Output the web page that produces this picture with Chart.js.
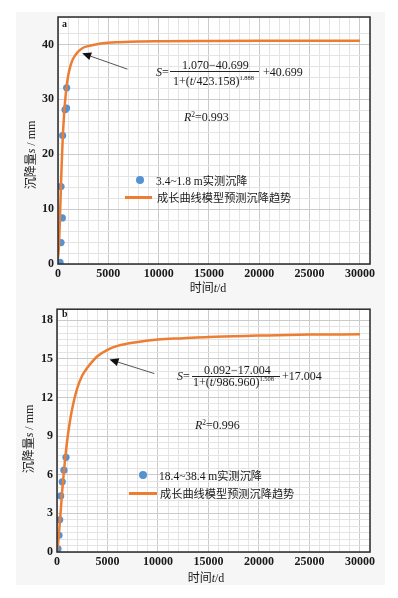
<!DOCTYPE html>
<html><head><meta charset="utf-8">
<script src="https://cdn.jsdelivr.net/npm/chart.js@4"></script>
<style>
html,body{margin:0;padding:0;background:#fff;}
#wrap{position:relative;width:398px;height:598px;overflow:hidden;}
#bg{position:absolute;left:16px;top:12px;width:369px;height:573px;background:#f6f6f6;}
canvas{position:absolute;left:0;}
.t{position:absolute;white-space:nowrap;line-height:1;transform:translateY(-50%);color:#1a1a1a;}
.serif{font-family:'Liberation Serif','DejaVu Serif',serif;font-size:12px;}
.cjk{font-family:'Noto Sans CJK SC',sans-serif;}
.sup{font-size:6.5px;vertical-align:5px;}
.sup2{font-size:7.5px;vertical-align:4px;}
.fl{position:absolute;height:1px;background:#222;}
.dot{position:absolute;width:8px;height:8px;border-radius:50%;background:#5592d2;transform:translate(-50%,-50%);}
.leg{position:absolute;height:2.5px;background:#ed7d31;}
.ytitle{position:absolute;white-space:nowrap;line-height:1;transform:translate(-50%,-50%) rotate(-90deg);font-size:12px;color:#1a1a1a;}
.xtitle{position:absolute;white-space:nowrap;line-height:1;transform:translate(-50%,-50%);font-size:12px;color:#1a1a1a;}
</style></head>
<body>
<div id="wrap">
<div id="bg"></div>
<canvas id="c1" width="398" height="298" style="top:0"></canvas>
<canvas id="c2" width="398" height="300" style="top:298px"></canvas>

<!-- panel a texts -->
<div class="t serif" style="left:62px;top:24px;font-size:10px;font-weight:bold;">a</div>
<div class="t serif" style="left:156px;top:71.5px;"><i>S</i>=</div>
<div class="t serif" style="left:182px;top:65px;">1.070−40.699</div>
<div class="fl" style="left:170px;top:71px;width:89px;"></div>
<div class="t serif" style="left:173px;top:80.5px;">1+(<i>t</i>/423.158)<span class="sup">1.888</span></div>
<div class="t serif" style="left:263px;top:71.5px;">+40.699</div>
<div class="t serif" style="left:184px;top:117px;"><i>R</i><span class="sup2">2</span>=0.993</div>
<div class="dot" style="left:139.5px;top:179.5px;"></div>
<div class="t" style="left:156px;top:180px;"><span class="serif" style="font-size:11.5px">3.4~1.8 m</span><span class="cjk" style="font-size:11.2px">实测沉降</span></div>
<div class="leg" style="left:125px;top:196px;width:27px;"></div>
<div class="t cjk" style="left:157px;top:197.5px;font-size:11.2px;">成长曲线模型预测沉降趋势</div>
<div class="xtitle" style="left:208px;top:287px;"><span class="cjk">时间</span><span class="serif"><i>t</i>/d</span></div>
<div class="ytitle" style="left:30px;top:154.5px;"><span class="cjk">沉降量</span><span class="serif"><i>s</i> / mm</span></div>

<!-- panel b texts -->
<div class="t serif" style="left:62px;top:314px;font-size:10px;font-weight:bold;">b</div>
<div class="t serif" style="left:177px;top:376px;"><i>S</i>=</div>
<div class="t serif" style="left:204px;top:369.5px;">0.092−17.004</div>
<div class="fl" style="left:192px;top:375.5px;width:88px;"></div>
<div class="t serif" style="left:193px;top:382px;">1+(<i>t</i>/986.960)<span class="sup">1.508</span></div>
<div class="t serif" style="left:282px;top:376px;">+17.004</div>
<div class="t serif" style="left:195px;top:425px;"><i>R</i><span class="sup2">2</span>=0.996</div>
<div class="dot" style="left:143px;top:474.5px;"></div>
<div class="t" style="left:159px;top:474.5px;"><span class="serif" style="font-size:11.5px">18.4~38.4 m</span><span class="cjk" style="font-size:11.2px">实测沉降</span></div>
<div class="leg" style="left:129px;top:492px;width:28px;"></div>
<div class="t cjk" style="left:160px;top:493.5px;font-size:11.2px;">成长曲线模型预测沉降趋势</div>
<div class="xtitle" style="left:206px;top:577px;"><span class="cjk">时间</span><span class="serif"><i>t</i>/d</span></div>
<div class="ytitle" style="left:28px;top:438.5px;"><span class="cjk">沉降量</span><span class="serif"><i>s</i> / mm</span></div>
</div>

<script>
// ---------- data ----------
const xTickLabels = [0, 5000, 10000, 15000, 20000, 25000, 30000];
const yTickLabelsA = [0, 10, 20, 30, 40];
const yTickLabelsB = [0, 3, 6, 9, 12, 15, 18];

// panel a: measured settlement (3.4~1.8 m)
const obsTimeA = [200, 300, 430, 300, 460, 700, 850, 860];
const obsSetA  = [0.3, 3.9, 8.4, 14.1, 23.4, 28.1, 28.4, 32.1];
// panel a: growth-curve model trend
const fitTimeA = [0, 100, 200, 300, 400, 500, 600, 800, 1000, 1250, 1500, 2000, 2500, 3000, 4000, 5000, 6000, 8000, 10000, 15000, 20000, 25000, 30000];
const fitSetA  = [1.07, 3.5, 8.8, 14.7, 19.8, 24.0, 27.2, 31.5, 34.2, 36.2, 37.4, 38.7, 39.4, 39.7, 40.1, 40.3, 40.4, 40.55, 40.6, 40.65, 40.67, 40.68, 40.69];

// panel b: measured settlement (18.4~38.4 m)
const obsTimeB = [100, 200, 265, 365, 520, 690, 890];
const obsSetB  = [0.25, 1.3, 2.5, 4.35, 5.45, 6.35, 7.35];
// panel b: growth-curve model trend
const fitTimeB = [0, 100, 200, 300, 400, 500, 600, 800, 1000, 1250, 1500, 2000, 2500, 3000, 4000, 5000, 6000, 8000, 10000, 12500, 15000, 20000, 25000, 30000];
const fitSetB  = [0.09, 0.6, 1.5, 2.5, 3.5, 4.6, 5.5, 7.2, 8.6, 10.0, 11.1, 12.7, 13.7, 14.3, 15.2, 15.7, 16.0, 16.3, 16.5, 16.6, 16.7, 16.8, 16.88, 16.9];

// ---------- helpers ----------
const MAJOR = '#cbcbcb', MINOR = '#e4e4e4';
const BLUE = '#5592d2', ORANGE = '#ed7d31';
const tickFont = {family: "'Liberation Serif','DejaVu Serif',serif", size: 12, weight: 'bold'};
const near = (v, arr) => arr.some(a => Math.abs(a - v) < 1e-6);

const framePlugin = {
  id: 'frame',
  beforeDraw(chart) {
    const {ctx, chartArea: a} = chart;
    ctx.save();
    ctx.fillStyle = '#ffffff';
    ctx.fillRect(a.left, a.top, a.right - a.left, a.bottom - a.top);
    ctx.restore();
  },
  afterDraw(chart, args, opts) {
    const {ctx, chartArea: a, scales} = chart;
    ctx.save();
    if (opts.from && opts.to) {
      const x1 = scales.x.getPixelForValue(opts.from[0]), y1 = scales.y.getPixelForValue(opts.from[1]);
      const x2 = scales.x.getPixelForValue(opts.to[0]), y2 = scales.y.getPixelForValue(opts.to[1]);
      const ang = Math.atan2(y2 - y1, x2 - x1), L = 9, W = 4;
      const c = Math.cos(ang), s = Math.sin(ang);
      const bx = x2 - L * c, by = y2 - L * s;
      ctx.strokeStyle = '#555';
      ctx.lineWidth = 1;
      ctx.beginPath(); ctx.moveTo(x1, y1); ctx.lineTo(bx, by); ctx.stroke();
      ctx.fillStyle = '#111';
      ctx.beginPath();
      ctx.moveTo(x2, y2);
      ctx.lineTo(bx + W * s, by - W * c);
      ctx.lineTo(bx - W * s, by + W * c);
      ctx.closePath(); ctx.fill();
    }
    ctx.strokeStyle = '#2a2a2a';
    ctx.lineWidth = 1.5;
    ctx.strokeRect(a.left, a.top, a.right - a.left, a.bottom - a.top);
    ctx.restore();
  }
};

function makeChart(id, cfg) {
  const fitData = cfg.fitT.map((t, i) => ({x: t, y: cfg.fitS[i]}));
  const obsData = cfg.obsT.map((t, i) => ({x: t, y: cfg.obsS[i]}));
  return new Chart(document.getElementById(id), {
    type: 'scatter',
    data: {
      datasets: [
        {label: 'fit', data: fitData, showLine: true, borderColor: ORANGE, borderWidth: 2.5,
         pointRadius: 0, cubicInterpolationMode: 'monotone', order: 0},
        {label: 'obs', data: obsData, backgroundColor: BLUE, borderColor: BLUE, pointRadius: 3.6,
         borderWidth: 0, order: 1}
      ]
    },
    options: {
      responsive: false, animation: false, devicePixelRatio: 1,
      layout: {padding: {left: 0, right: 28, top: cfg.padTop, bottom: 0}},
      plugins: {legend: {display: false}, tooltip: {enabled: false}, frame: {from: cfg.arrowFrom, to: cfg.arrowTo}},
      scales: {
        x: {
          type: 'linear', min: 0, max: 31000,
          ticks: {stepSize: 1000, autoSkip: false, maxRotation: 0, minRotation: 0, padding: 3,
                  font: tickFont, color: '#1a1a1a',
                  callback: v => near(v, xTickLabels) ? String(v) : ''},
          grid: {drawTicks: false, lineWidth: 1,
                 color: c => (c.tick && near(c.tick.value, xTickLabels)) ? MAJOR : MINOR},
          border: {display: false},
          afterFit: s => { s.height = cfg.xHeight; }
        },
        y: {
          type: 'linear', min: 0, max: cfg.yMax,
          ticks: {stepSize: cfg.yStep, autoSkip: false, padding: 4, font: tickFont, color: '#1a1a1a',
                  callback: v => near(v, cfg.yLabels) ? String(v) : ''},
          grid: {drawTicks: false, lineWidth: 1,
                 color: c => (c.tick && near(c.tick.value, cfg.yLabels)) ? MAJOR : MINOR},
          border: {display: false},
          afterFit: s => { s.width = cfg.yWidth; }
        }
      }
    },
    plugins: [framePlugin]
  });
}

makeChart('c1', {fitT: fitTimeA, fitS: fitSetA, obsT: obsTimeA, obsS: obsSetA,
  yMax: 45, yStep: 2, yLabels: yTickLabelsA, padTop: 17, xHeight: 34, yWidth: 58,
  arrowFrom: [6900, 35.5], arrowTo: [2400, 38.4]});
makeChart('c2', {fitT: fitTimeB, fitS: fitSetB, obsT: obsTimeB, obsS: obsSetB,
  yMax: 18.85, yStep: 0.5, yLabels: yTickLabelsB, padTop: 9, xHeight: 46, yWidth: 57,
  arrowFrom: [9650, 13.85], arrowTo: [5200, 14.95]});
</script>
</body></html>
